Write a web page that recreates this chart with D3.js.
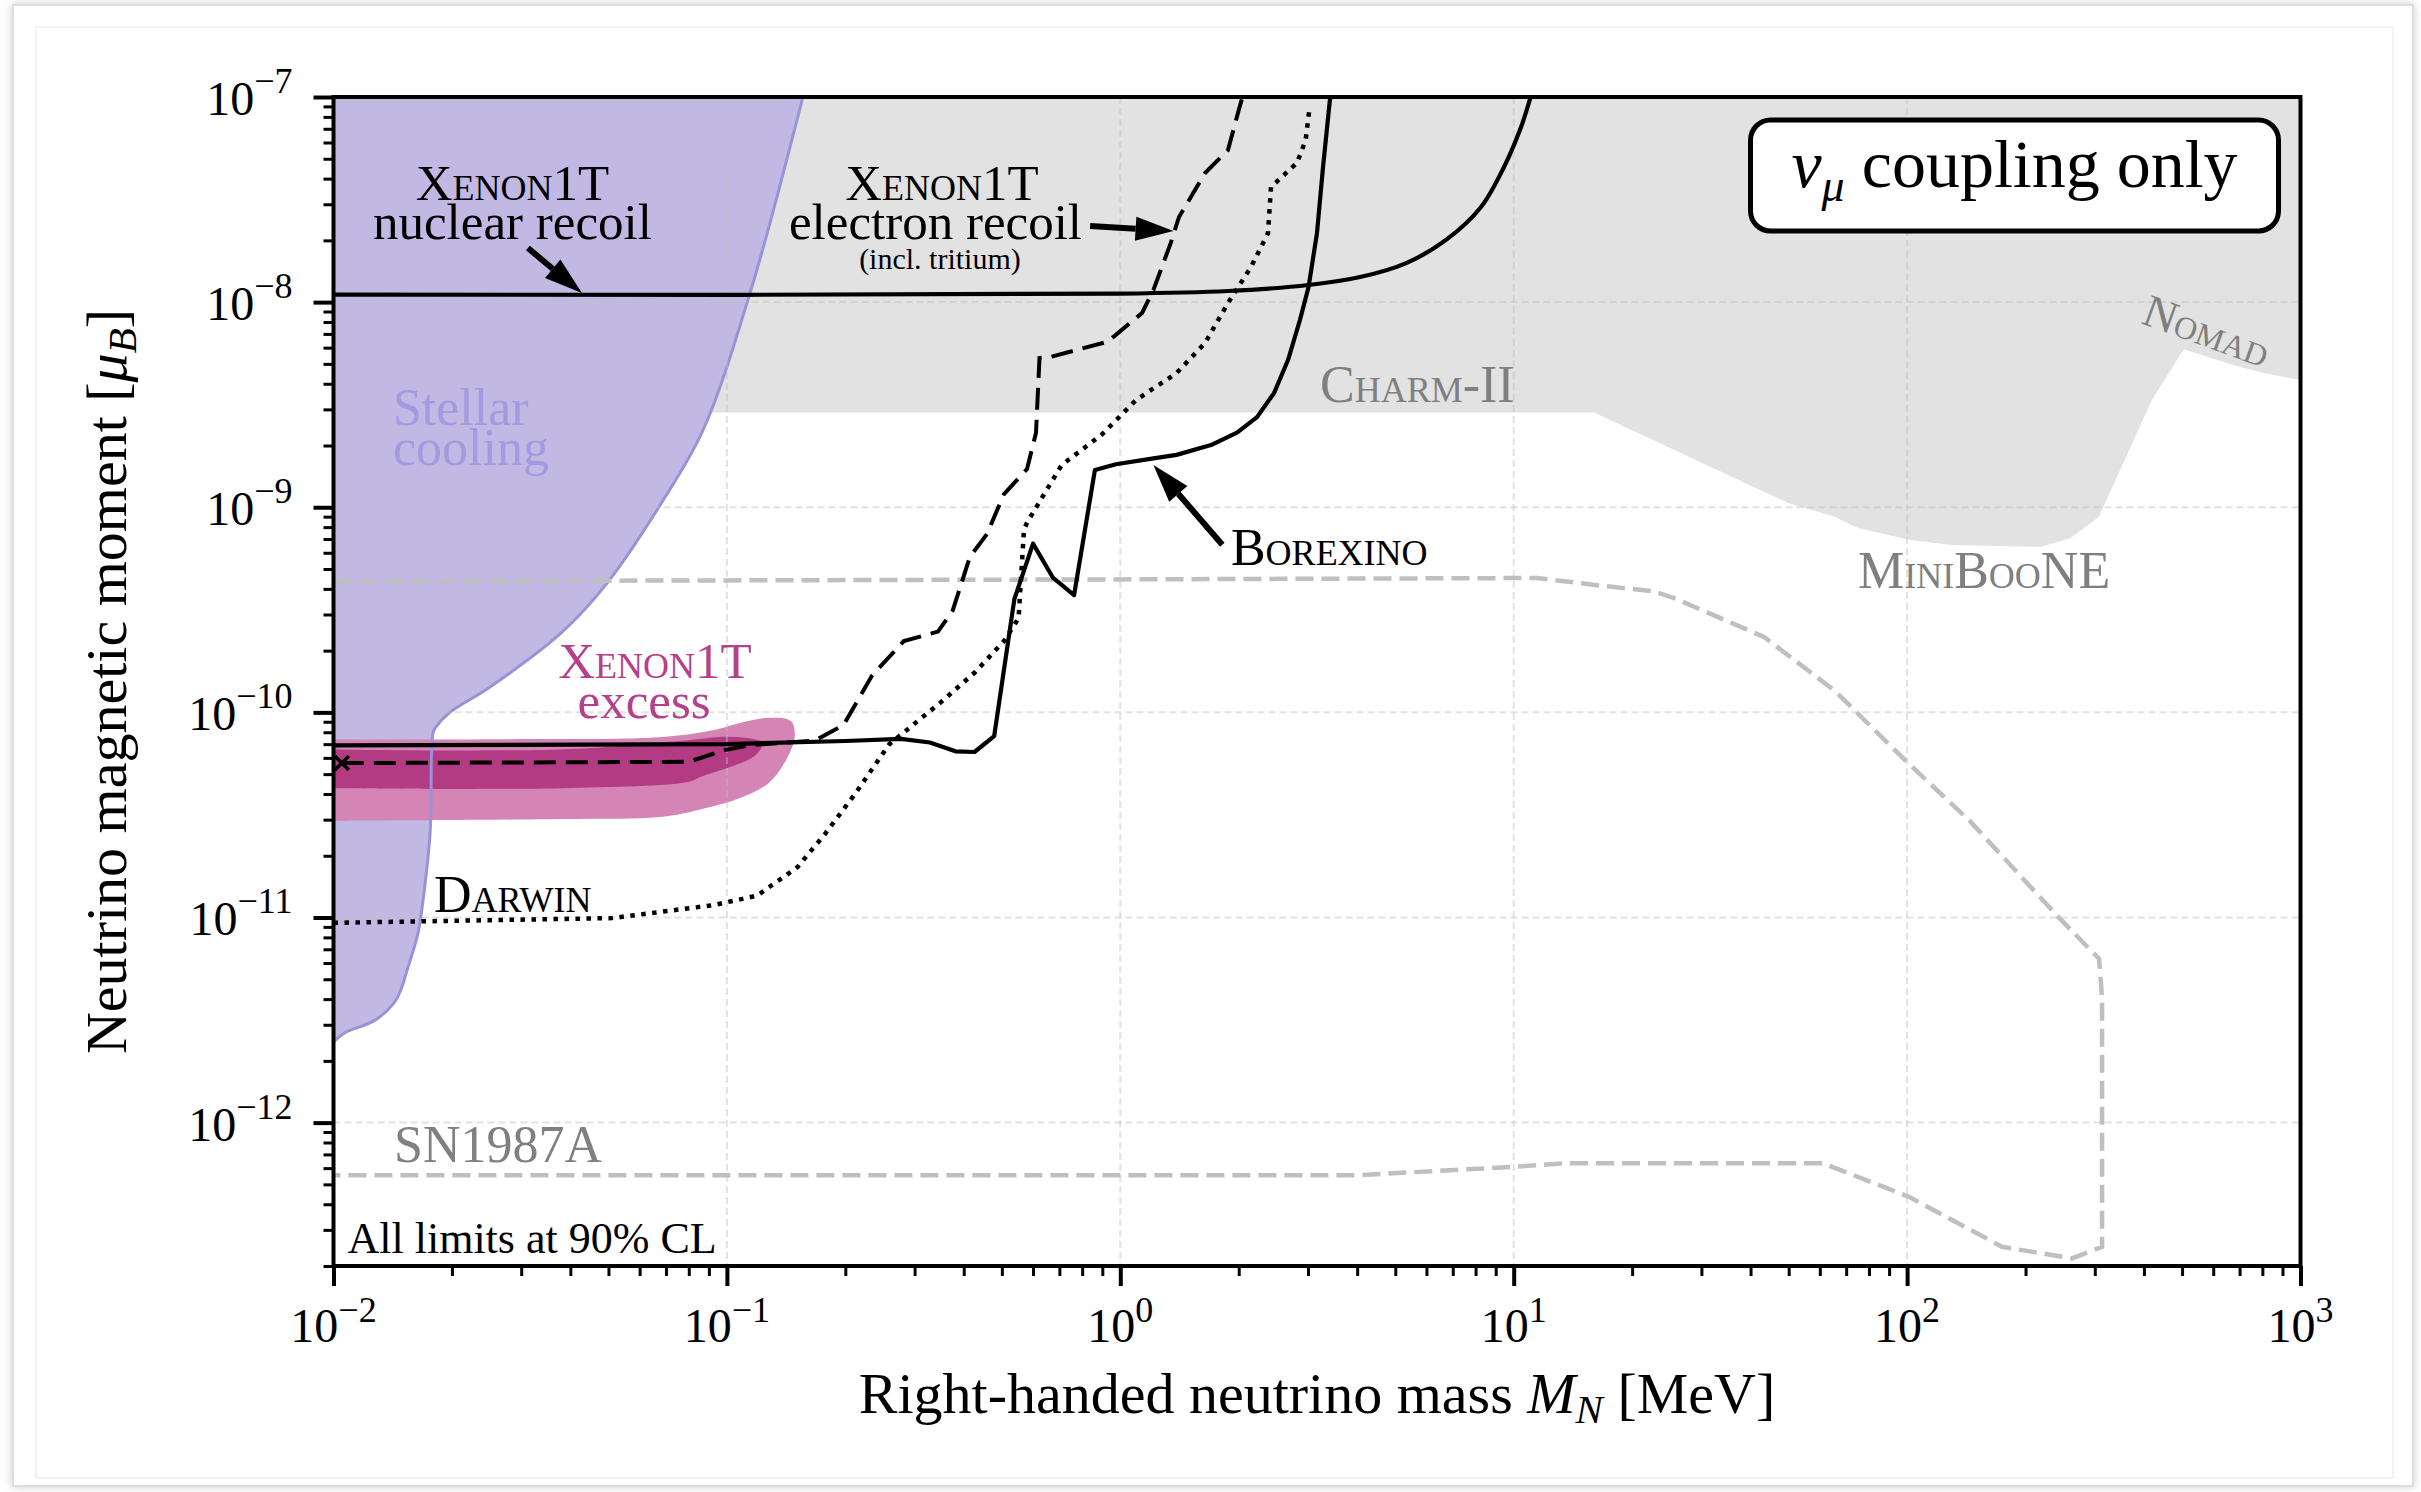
<!DOCTYPE html>
<html>
<head>
<meta charset="utf-8">
<script src="https://cdn.jsdelivr.net/npm/d3@7"></script>
<style>
  html, body { margin: 0; padding: 0; background: #fff; }
  svg { display: block; }
  text { font-family: "Liberation Serif", "DejaVu Serif", serif; }
</style>
</head>
<body>
<svg id="chart" width="2421" height="1492"></svg>
<script>
// ---- data: [mass MeV, magnetic moment mu_B] ----
const stellarCooling = [[0.156,1e-7],[0.1145,1.108e-8],[0.087,2.38e-9],[0.0688,1.08e-9],[0.0496,4.27e-10],
  [0.0379,2.44e-10],[0.025,1.33e-10],[0.01966,9.92e-11],[0.0182,8.48e-11],[0.0179,7.93e-11],[0.0176,2.58e-11],
  [0.01689,1.216e-11],[0.0164,8.4e-12],[0.01547,5.73e-12],[0.01442,3.96e-12],[0.01275,3.16e-12],[0.01063,2.73e-12],[0.01,2.47e-12]];

// lower edge of the grey excluded region (Charm-II / MiniBooNE / Nomad)
const accelBound = [[0.01,2.9e-9],[16.0,2.9e-9],[49.8,1.05e-9],[65.6,8.96e-10],[75,7.92e-10],[102,6.92e-10],
  [130,6.54e-10],[218,6.4e-10],[260,7.07e-10],[307,8.96e-10],[419,3.33e-9],[505,5.9e-9],[677,4.93e-9],[808,4.51e-9],[1000,4.17e-9]];

const nuclearRecoil = [[0.01,1.087e-8],[1.0,1.1e-8],[1.878,1.133e-8],[3.01,1.212e-8],[4.07,1.325e-8],[5.33,1.55e-8],
  [6.73,2.01e-8],[8.26,2.91e-8],[9.45,4.56e-8],[10.44,7.14e-8],[11.04,1e-7]];

const borexino = [[0.01,6.9e-11],[0.1,7.0e-11],[0.2,7.25e-11],[0.277,7.43e-11],[0.328,7.13e-11],[0.381,6.46e-11],
  [0.426,6.41e-11],[0.478,7.66e-11],[0.538,3.57e-10],[0.60,6.65e-10],[0.675,4.52e-10],[0.763,3.73e-10],[0.862,1.52e-9],
  [0.975,1.62e-9],[1.214,1.73e-9],[1.39,1.80e-9],[1.70,2.01e-9],[1.98,2.31e-9],[2.226,2.75e-9],[2.459,3.6e-9],
  [2.669,5.22e-9],[2.862,8.18e-9],[3.01,1.185e-8],[3.162,2.17e-8],[3.276,4.56e-8],[3.41,9.67e-8],[3.43,1e-7]];

const electronRecoil = [[0.0105,5.66e-11],[0.08,5.74e-11],[0.0986,6.55e-11],[0.1145,6.93e-11],[0.1673,7.28e-11],
  [0.1978,8.67e-11],[0.2338,1.511e-10],[0.2817,2.226e-10],[0.344,2.477e-10],[0.3749,3.135e-10],[0.4145,5.72e-10],
  [0.4582,7.4e-10],[0.5063,1.16e-9],[0.5793,1.536e-9],[0.6106,2.31e-9],[0.6231,5.34e-9],[0.663,5.4e-9],[0.9284,6.41e-9],
  [1.136,8.85e-9],[1.214,1.146e-8],[1.343,1.94e-8],[1.41,2.6e-8],[1.642,4.26e-8],[1.878,5.51e-8],[2.01,8.94e-8],[2.045,1e-7]];

const darwin = [[0.01,9.42e-12],[0.051,9.93e-12],[0.0927,1.15e-11],[0.1193,1.278e-11],[0.1512,1.761e-11],[0.1786,2.59e-11],
  [0.2116,4.0e-11],[0.2588,7.0e-11],[0.3502,1.122e-10],[0.4285,1.577e-10],[0.5063,2.226e-10],[0.5514,2.88e-10],
  [0.569,7.74e-10],[0.5793,8.42e-10],[0.7095,1.606e-9],[0.8984,2.265e-9],[1.096,3.33e-9],[1.39,4.51e-9],[1.642,6.32e-9],
  [1.878,9.9e-9],[2.149,1.483e-8],[2.374,2.17e-8],[2.416,3.64e-8],[2.813,4.77e-8],[2.959,6.17e-8],[3.03,8.94e-8]];

const sn1987a = [[0.01,4.35e-10],[1,4.45e-10],[11.5,4.52e-10],[16.6,4.15e-10],[22.6,3.9e-10],[25.9,3.57e-10],[43.3,2.33e-10],
  [65.6,1.27e-10],[98.8,5.85e-11],[144.5,2.95e-11],[241.8,1.01e-11],[307.5,6.29e-12],[313,4.09e-12],[313,2.48e-13],
  [262.6,2.18e-13],[174.3,2.48e-13],[101.1,4.35e-13],[61.1,6.34e-13],[13.6,6.34e-13],[9.87,6.08e-13],[3.97,5.54e-13],[0.01,5.54e-13]];

const excess2sigma = [[0.01,7.38e-11],[0.0265,7.4e-11],[0.0688,7.58e-11],[0.0927,8.2e-11],[0.108,8.87e-11],[0.128,9.42e-11],
  [0.1455,9.07e-11],[0.1487,7.6e-11],[0.1413,5.85e-11],[0.128,4.54e-11],[0.108,3.82e-11],[0.0855,3.36e-11],[0.0688,3.1e-11],
  [0.0379,3.02e-11],[0.01,2.96e-11]];

const excess1sigma = [[0.01,6.6e-11],[0.0379,6.6e-11],[0.0801,7.32e-11],[0.0986,7.6e-11],[0.1156,7.43e-11],[0.1235,7.12e-11],
  [0.1175,6.12e-11],[0.101,5.38e-11],[0.0855,4.84e-11],[0.0801,4.59e-11],[0.0379,4.27e-11],[0.01,4.27e-11]];

const bestFit = [0.0105, 5.66e-11];

const xTickExps = [-2, -1, 0, 1, 2, 3];
const yTickExps = [-12, -11, -10, -9, -8, -7];

// ---- layout ----
const W = 2421, H = 1492;
const plotL = 333.5, plotR = 2300.5, plotT = 97, plotB = 1266;

const x = d3.scaleLog().domain([1e-2, 1e3]).range([plotL, plotR]);
const y = d3.scaleLog().domain([2e-13, 1e-7]).range([plotB, plotT]);

const svg = d3.select("#chart");

// figure card frame
const defs = svg.append("defs");
const shadow = defs.append("filter").attr("id", "shadow").attr("x", "-2%").attr("y", "-2%").attr("width", "104%").attr("height", "104%");
shadow.append("feDropShadow").attr("dx", 0).attr("dy", 0).attr("stdDeviation", 4).attr("flood-color", "#999").attr("flood-opacity", 0.5);
svg.append("rect").attr("x", 13).attr("y", 5).attr("width", 2400).attr("height", 1481)
   .attr("fill", "#fff").attr("stroke", "#dedede").attr("stroke-width", 2).attr("filter", "url(#shadow)");
svg.append("rect").attr("x", 36).attr("y", 27).attr("width", 2357).attr("height", 1451)
   .attr("fill", "none").attr("stroke", "#f3f3f3").attr("stroke-width", 2);

defs.append("clipPath").attr("id", "plotclip").append("rect")
    .attr("x", plotL).attr("y", plotT).attr("width", plotR - plotL).attr("height", plotB - plotT);

const plot = svg.append("g").attr("clip-path", "url(#plotclip)");

const line = d3.line().x(d => x(d[0])).y(d => y(d[1]));
const smooth = d3.line().x(d => x(d[0])).y(d => y(d[1])).curve(d3.curveCatmullRom.alpha(0.5));

// grey accelerator region
const greyPoly = [[1e-2, 1e-7], [1e3, 1e-7]].concat(accelBound.slice().reverse());
plot.append("path").attr("d", line(greyPoly) + "Z").attr("fill", "#e2e2e2");

// stellar cooling
plot.append("path")
    .attr("d", smooth(stellarCooling) + `L${x(1e-2)},${y(1e-7)}Z`)
    .attr("fill", "#c1b9e4");

// Xenon1T excess bands
plot.append("path").attr("d", smooth(excess2sigma) + "Z").attr("fill", "#d584b6");
plot.append("path").attr("d", smooth(excess1sigma) + "Z").attr("fill", "#b23b84");

plot.append("path").attr("d", smooth(stellarCooling))
    .attr("fill", "none").attr("stroke", "#9a92d8").attr("stroke-width", 3);

// grid
const gridG = plot.append("g").attr("stroke", "rgba(190,190,190,0.45)").attr("stroke-width", 2).attr("stroke-dasharray", "7,4");
xTickExps.forEach(e => {
  gridG.append("line").attr("x1", x(10 ** e)).attr("x2", x(10 ** e)).attr("y1", plotT).attr("y2", plotB);
});
yTickExps.forEach(e => {
  gridG.append("line").attr("y1", y(10 ** e)).attr("y2", y(10 ** e)).attr("x1", plotL).attr("x2", plotR);
});

// SN1987A
plot.append("path").attr("d", line(sn1987a)).attr("fill", "none")
    .attr("stroke", "#bfbfbf").attr("stroke-width", 4.5).attr("stroke-dasharray", "18,8");

// Darwin projection
plot.append("path").attr("d", line(darwin)).attr("fill", "none")
    .attr("stroke", "#000").attr("stroke-width", 4.5).attr("stroke-dasharray", "4.5,6.5");

// Xenon1T electron recoil
plot.append("path").attr("d", line(electronRecoil)).attr("fill", "none")
    .attr("stroke", "#000").attr("stroke-width", 4).attr("stroke-dasharray", "22,10");

// Borexino
plot.append("path").attr("d", line(borexino)).attr("fill", "none")
    .attr("stroke", "#000").attr("stroke-width", 4.2).attr("stroke-linejoin", "round");

// Xenon1T nuclear recoil
plot.append("path").attr("d", smooth(nuclearRecoil)).attr("fill", "none")
    .attr("stroke", "#000").attr("stroke-width", 4.2);

// best fit marker
const bx = x(bestFit[0]), by = y(bestFit[1]);
plot.append("path").attr("d", `M${bx - 7},${by - 7}L${bx + 7},${by + 7}M${bx - 7},${by + 7}L${bx + 7},${by - 7}`)
    .attr("stroke", "#000").attr("stroke-width", 3.5);

// ---- annotations ----
function label(px, py, str, size, color, anchor) {
  return svg.append("text").attr("x", px).attr("y", py).attr("font-size", size)
     .attr("fill", color || "#000").attr("text-anchor", anchor || "start").text(str);
}
const sc = t => t.style("font-variant", "small-caps");

sc(label(x(0.0285), y(3.01e-8) - 4, "Xenon1T", 51, "#000", "middle"));
label(x(0.0285), y(2.05e-8) + 1, "nuclear recoil", 51, "#000", "middle");

sc(label(x(0.352), y(3.01e-8) - 4, "Xenon1T", 51, "#000", "middle"));
label(x(0.339), y(2.05e-8) + 1, "electron recoil", 51, "#000", "middle");
label(x(0.348), y(1.483e-8) + 2, "(incl. tritium)", 30, "#000", "middle");

label(x(0.01416), y(2.52e-9), "Stellar", 52, "#a39ae0");
label(x(0.01416), y(1.606e-9), "cooling", 52, "#a39ae0");

sc(label(x(3.218), y(3.26e-9), "Charm-II", 52, "#7f7f7f"));
sc(label(0, 0, "Nomad", 46, "#7f7f7f"))
  .attr("transform", `translate(${x(390.8)},${y(7.91e-9)}) rotate(20)`);
sc(label(x(156.9), y(4.06e-10), "MiniBooNE", 52, "#7f7f7f", "middle"));
sc(label(x(1.911), y(5.23e-10), "Borexino", 52, "#000"));

sc(label(x(0.0656), y(1.405e-10) - 4, "Xenon1T", 51, "#b5418a", "middle"));
label(x(0.0616), y(9.49e-11) + 1, "excess", 51, "#b5418a", "middle");

sc(label(x(0.018), y(1.062e-11), "Darwin", 52, "#000"));
label(x(0.01425), y(6.41e-13), "SN1987A", 52, "#808080");
label(plotL + 14, plotB - 13, "All limits at 90% CL", 44, "#000");

// arrows
function arrow(from, to) {
  const x1 = x(from[0]), y1 = y(from[1]), x2 = x(to[0]), y2 = y(to[1]);
  const a = Math.atan2(y2 - y1, x2 - x1), L = 38, hw = 12;
  const hx = x2 - L * Math.cos(a), hy = y2 - L * Math.sin(a);
  svg.append("line").attr("x1", x1).attr("y1", y1).attr("x2", hx).attr("y2", hy)
     .attr("stroke", "#000").attr("stroke-width", 6);
  svg.append("path")
     .attr("d", `M${x2},${y2}L${hx - hw * Math.sin(a)},${hy + hw * Math.cos(a)}L${hx + hw * Math.sin(a)},${hy - hw * Math.cos(a)}Z`)
     .attr("fill", "#000");
}
arrow([0.0312, 1.835e-8], [0.0428, 1.108e-8]);
arrow([0.838, 2.35e-8], [1.366, 2.22e-8]);
arrow([1.817, 6.56e-10], [1.214, 1.606e-9]);

// coupling box
const boxW = 528, boxH = 111, boxR = plotR - 22, boxT = plotT + 23;
svg.append("rect").attr("x", boxR - boxW).attr("y", boxT).attr("width", boxW).attr("height", boxH)
   .attr("rx", 20).attr("fill", "#fff").attr("stroke", "#000").attr("stroke-width", 5);
const bt = svg.append("text").attr("x", boxR - boxW / 2).attr("y", boxT + 67)
   .attr("font-size", 68).attr("text-anchor", "middle");
bt.append("tspan").attr("font-style", "italic").text("ν");
bt.append("tspan").attr("font-style", "italic").attr("font-size", 46).attr("dy", 14).text("μ");
bt.append("tspan").attr("dy", -14).text(" coupling only");

// ---- axes ----
const xMinor = [], yMinor = [];
xTickExps.slice(0, -1).forEach(e => { for (let d = 2; d < 10; d++) xMinor.push(d * 10 ** e); });
yTickExps.forEach(e => { for (let d = 2; d < 10; d++) { const v = d * 10 ** (e - 1); if (v >= 2e-13) yMinor.push(v); } });

function styleAxis(g, w) {
  g.selectAll(".domain").remove();
  g.selectAll("line").attr("stroke", "#000").attr("stroke-width", w);
}
const gxMin = svg.append("g").attr("transform", `translate(0,${plotB})`)
  .call(d3.axisBottom(x).tickValues(xMinor).tickSize(10).tickFormat(""));
styleAxis(gxMin, 3);
const gxMaj = svg.append("g").attr("transform", `translate(0,${plotB})`)
  .call(d3.axisBottom(x).tickValues(xTickExps.map(e => 10 ** e)).tickSize(20).tickFormat(""));
styleAxis(gxMaj, 4);
const gyMin = svg.append("g").attr("transform", `translate(${plotL},0)`)
  .call(d3.axisLeft(y).tickValues(yMinor).tickSize(10).tickFormat(""));
styleAxis(gyMin, 3);
const gyMaj = svg.append("g").attr("transform", `translate(${plotL},0)`)
  .call(d3.axisLeft(y).tickValues(yTickExps.map(e => 10 ** e)).tickSize(20).tickFormat(""));
styleAxis(gyMaj, 4);

const expText = e => (e < 0 ? "\u2212" + (-e) : String(e));
xTickExps.forEach(e => {
  const t = svg.append("text").attr("x", x(10 ** e)).attr("y", plotB + 76)
    .attr("font-size", 48).attr("text-anchor", "middle");
  t.append("tspan").text("10");
  t.append("tspan").attr("dy", -20).attr("font-size", 36).text(expText(e));
});
yTickExps.forEach(e => {
  const t = svg.append("text").attr("x", plotL - 41).attr("y", y(10 ** e) + 18)
    .attr("font-size", 48).attr("text-anchor", "end");
  t.append("tspan").text("10");
  t.append("tspan").attr("dy", -22).attr("font-size", 36).text(expText(e));
});

// frame
svg.append("rect").attr("x", plotL).attr("y", plotT).attr("width", plotR - plotL).attr("height", plotB - plotT)
   .attr("fill", "none").attr("stroke", "#000").attr("stroke-width", 4);

// axis titles
const xt = svg.append("text").attr("x", (plotL + plotR) / 2).attr("y", 1413)
  .attr("font-size", 58).attr("text-anchor", "middle");
xt.append("tspan").text("Right-handed neutrino mass ");
xt.append("tspan").attr("font-style", "italic").text("M");
xt.append("tspan").attr("font-style", "italic").attr("font-size", 41).attr("dy", 10).text("N");
xt.append("tspan").attr("dy", -10).text(" [MeV]");

const yt = svg.append("text").attr("transform", `translate(126,${(plotT + plotB) / 2}) rotate(-90)`)
  .attr("font-size", 58).attr("text-anchor", "middle");
yt.append("tspan").text("Neutrino magnetic moment [");
yt.append("tspan").attr("font-style", "italic").text("μ");
yt.append("tspan").attr("font-style", "italic").attr("font-size", 41).attr("dy", 10).text("B");
yt.append("tspan").attr("dy", -10).text("]");
</script>
</body>
</html>
